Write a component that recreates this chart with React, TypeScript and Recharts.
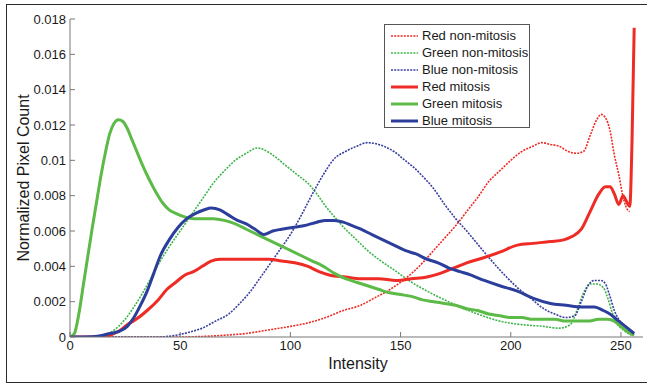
import { Line, LineChart, XAxis, YAxis } from "recharts";

type Pair = [number, number];

const intensityTicks = [0, 50, 100, 150, 200, 250];
const countTicks = [0, 0.002, 0.004, 0.006, 0.008, 0.01, 0.012, 0.014, 0.016, 0.018];

const redNonMitosis: Pair[] = [
  [0, 0], [50, 0], [60, 0.00003], [70, 0.0001], [80, 0.0002], [90, 0.0004], [100, 0.0006],
  [108, 0.0008], [116, 0.0011], [124, 0.0015], [132, 0.0018], [138, 0.0022], [144, 0.0026],
  [150, 0.0031], [155, 0.0036], [160, 0.0042], [165, 0.0049], [170, 0.0056], [175, 0.0063],
  [180, 0.0071], [185, 0.0079], [190, 0.0088], [195, 0.0094], [200, 0.01], [205, 0.0105],
  [210, 0.0108], [214, 0.011], [218, 0.0109], [222, 0.0108], [226, 0.0105], [230, 0.0104],
  [233, 0.0105], [236, 0.0114], [239, 0.0123], [241, 0.0126], [243, 0.0124], [245, 0.0117],
  [247, 0.0103], [249, 0.0092], [251, 0.0079], [253, 0.0072], [254, 0.0071],
];

const greenNonMitosis: Pair[] = [
  [0, 0], [10, 0], [15, 0.0001], [19, 0.0003], [22, 0.0006], [25, 0.001], [29, 0.0017],
  [33, 0.0025], [37, 0.0034], [41, 0.0043], [45, 0.0051], [50, 0.006], [55, 0.0069],
  [60, 0.0078], [65, 0.0087], [70, 0.0094], [75, 0.01], [80, 0.0104], [85, 0.0107],
  [88, 0.0106], [92, 0.0103], [96, 0.0099], [100, 0.0095], [104, 0.0091],
  [108, 0.0087], [112, 0.0081], [116, 0.0074], [120, 0.0068], [125, 0.0061], [130, 0.0055],
  [135, 0.0049], [140, 0.0044], [147, 0.0038], [155, 0.0031], [162, 0.0026], [170, 0.0021],
  [177, 0.0017], [185, 0.0013], [195, 0.0009], [205, 0.0007], [215, 0.0006], [222, 0.0005],
  [227, 0.0007], [230, 0.0015], [233, 0.0025], [236, 0.003], [239, 0.003], [242, 0.0028],
  [244, 0.0022], [246, 0.0014], [248, 0.0008], [251, 0.0004], [255, 0.0001],
];

const blueNonMitosis: Pair[] = [
  [0, 0], [40, 0], [48, 0.0001], [55, 0.0003], [60, 0.0005], [66, 0.0009], [72, 0.0013],
  [77, 0.0019], [82, 0.0026], [86, 0.0033], [90, 0.004], [95, 0.0049], [100, 0.0058],
  [105, 0.0069], [110, 0.0081], [115, 0.0092], [120, 0.0101], [125, 0.0105], [130, 0.0108],
  [135, 0.011], [140, 0.0109], [147, 0.0105], [152, 0.01], [156, 0.0096], [160, 0.0091],
  [165, 0.0084], [170, 0.0075], [175, 0.0067], [180, 0.006], [188, 0.0048], [195, 0.0038],
  [203, 0.0028], [209, 0.0022], [215, 0.0016], [220, 0.0013], [225, 0.0011], [229, 0.0012],
  [232, 0.002], [235, 0.0029], [238, 0.0032], [241, 0.0032], [243, 0.003], [245, 0.0023],
  [247, 0.0015], [249, 0.001], [252, 0.0006], [255, 0.0002],
];

const redMitosis: Pair[] = [
  [0, 0], [15, 0], [20, 0.0002], [23, 0.0004], [26, 0.0007], [30, 0.001], [35, 0.0015],
  [40, 0.0021], [44, 0.0027], [48, 0.0031], [52, 0.0035], [56, 0.0037], [60, 0.004],
  [64, 0.0043], [68, 0.0044], [75, 0.0044], [82, 0.0044], [90, 0.0044], [96, 0.0043],
  [102, 0.0042], [108, 0.004], [113, 0.0037], [118, 0.0035], [125, 0.0034], [132, 0.0033],
  [140, 0.0033], [148, 0.0032], [155, 0.0033], [162, 0.0034], [168, 0.0036], [174, 0.0039],
  [180, 0.0042], [188, 0.0045], [195, 0.0048], [203, 0.0052], [210, 0.0053], [218, 0.0054],
  [224, 0.0055], [228, 0.0057], [232, 0.0061], [236, 0.0071], [240, 0.0081], [243, 0.0085],
  [245, 0.0085], [247, 0.0081], [249, 0.0075], [251, 0.008], [252, 0.0078], [254, 0.0074],
  [255, 0.011], [256, 0.0175],
];

const greenMitosis: Pair[] = [
  [0, 0], [2, 0.0002], [4, 0.0013], [6, 0.0029], [8, 0.0045], [10, 0.0061], [12, 0.0076],
  [14, 0.0091], [16, 0.0104], [18, 0.0115], [20, 0.0121], [22, 0.0123], [24, 0.0122],
  [26, 0.0118], [28, 0.0112], [30, 0.0106], [33, 0.0097], [36, 0.0089], [39, 0.0082],
  [42, 0.0076], [45, 0.0072], [48, 0.007], [52, 0.0068], [56, 0.0067], [60, 0.0067],
  [65, 0.0067], [70, 0.0066], [75, 0.0064], [80, 0.0061], [85, 0.0058], [90, 0.0055],
  [95, 0.0052], [100, 0.0049], [105, 0.0046], [110, 0.0043], [115, 0.004], [120, 0.0036],
  [125, 0.0033], [130, 0.0031], [135, 0.0029], [140, 0.0027], [145, 0.0025], [150, 0.0024],
  [155, 0.0023], [160, 0.0021], [165, 0.002], [170, 0.0019], [175, 0.0018], [180, 0.0016],
  [185, 0.0015], [190, 0.0013], [195, 0.0012], [200, 0.0011], [205, 0.0011], [210, 0.001],
  [215, 0.001], [220, 0.001], [225, 0.0009], [230, 0.0009], [235, 0.0009], [240, 0.001],
  [244, 0.001], [247, 0.0009], [250, 0.0006], [253, 0.0003], [256, 0.0001],
];

const blueMitosis: Pair[] = [
  [0, 0], [10, 0.00002], [15, 0.0001], [18, 0.0002], [22, 0.0003], [26, 0.0006], [29, 0.0011],
  [32, 0.0018], [35, 0.0026], [38, 0.0036], [41, 0.0046], [45, 0.0055], [49, 0.0062],
  [53, 0.0067], [57, 0.007], [61, 0.0072], [64, 0.0073], [68, 0.0072], [72, 0.0069],
  [76, 0.0066], [80, 0.0064], [84, 0.0061], [88, 0.0058], [92, 0.006], [96, 0.0061],
  [101, 0.0062], [106, 0.0063], [112, 0.0065], [116, 0.0066], [120, 0.0066], [124, 0.0065],
  [128, 0.0063], [132, 0.0061], [137, 0.0058], [142, 0.0055], [147, 0.0052], [152, 0.0049],
  [157, 0.0047], [162, 0.0044], [167, 0.0042], [172, 0.0039], [177, 0.0037], [182, 0.0035],
  [188, 0.0032], [195, 0.0029], [203, 0.0026], [210, 0.0022], [218, 0.0019], [225, 0.0018],
  [232, 0.0017], [238, 0.0017], [242, 0.0015], [245, 0.0013], [248, 0.001], [251, 0.0007],
  [254, 0.0004], [256, 0.0002],
];

const toRows = (pts: Pair[]) => pts.map(([x, y]) => ({ x, y }));

const RED = "#ee2b24";
const GREEN = "#5cba47";
const BLUE = "#2c3e9c";
const DOT = "2 1.2";

const series = [
  { name: "Red non-mitosis", data: redNonMitosis, color: RED, dotted: true },
  { name: "Green non-mitosis", data: greenNonMitosis, color: "#3db54a", dotted: true },
  { name: "Blue non-mitosis", data: blueNonMitosis, color: "#3a3f9f", dotted: true },
  { name: "Red mitosis", data: redMitosis, color: RED, dotted: false },
  { name: "Green mitosis", data: greenMitosis, color: GREEN, dotted: false },
  { name: "Blue mitosis", data: blueMitosis, color: BLUE, dotted: false },
];

const font = "'Liberation Sans', Arial, Helvetica, sans-serif";
const tickStyle = { fontSize: 13, fill: "#1a1a1a", fontFamily: font };

export default function App() {
  return (
    <div style={{ position: "absolute", left: 0, top: 0, width: 647, height: 386, background: "#fff", overflow: "hidden", fontFamily: font }}>
      <div style={{ position: "absolute", left: 6, top: 4, width: 700, height: 377, border: "1.5px solid #2a2a2a" }} />
      <div style={{ position: "absolute", left: 0, top: 0 }}>
        <LineChart width={647} height={386} margin={{ top: 19, right: 4, bottom: 19, left: 10 }}>
          <XAxis
            dataKey="x"
            type="number"
            domain={[0, 260]}
            ticks={intensityTicks}
            allowDataOverflow
            height={30}
            tickSize={-5}
            tickMargin={9}
            stroke="#777"
            tick={tickStyle}
          />
          <XAxis xAxisId="top" orientation="top" type="number" domain={[0, 260]} ticks={intensityTicks} height={0} tickSize={-5} tick={false} stroke="#777" />
          <YAxis
            type="number"
            domain={[0, 0.018]}
            ticks={countTicks}
            allowDataOverflow
            width={60}
            tickSize={-5}
            tickMargin={9}
            stroke="#777"
            tick={tickStyle}
          />
          <YAxis yAxisId="right" orientation="right" type="number" domain={[0, 0.018]} ticks={countTicks} width={0} tickSize={-5} tick={false} stroke="#777" />
          {series.map((s) => (
            <Line
              key={s.name}
              data={toRows(s.data)}
              dataKey="y"
              name={s.name}
              type="monotone"
              stroke={s.color}
              strokeWidth={s.dotted ? 1.6 : 3}
              strokeDasharray={s.dotted ? DOT : undefined}
              dot={false}
              activeDot={false}
              isAnimationActive={false}
            />
          ))}
        </LineChart>
      </div>
      <div style={{ position: "absolute", left: 358, top: 364, transform: "translate(-50%, -50%)", fontSize: 16, color: "#1a1a1a" }}>
        Intensity
      </div>
      <div style={{ position: "absolute", left: 24, top: 178, transform: "translate(-50%, -50%) rotate(-90deg)", fontSize: 16, color: "#1a1a1a", whiteSpace: "nowrap" }}>
        Normalized Pixel Count
      </div>
      <div style={{ position: "absolute", left: 384, top: 24, width: 146, height: 104, background: "#fff", border: "1px solid #555", boxSizing: "border-box" }}>
        {series.map((s, i) => (
          <div key={s.name} style={{ position: "absolute", left: 6, top: 2 + i * 17, height: 17, display: "flex", alignItems: "center", fontSize: 13, color: "#1a1a1a", whiteSpace: "nowrap" }}>
            <svg width={28} height={6} style={{ marginRight: 3 }}>
              <line x1={0} y1={3} x2={27} y2={3} stroke={s.color} strokeWidth={s.dotted ? 1.6 : 3} strokeDasharray={s.dotted ? DOT : undefined} />
            </svg>
            {s.name}
          </div>
        ))}
      </div>
    </div>
  );
}
